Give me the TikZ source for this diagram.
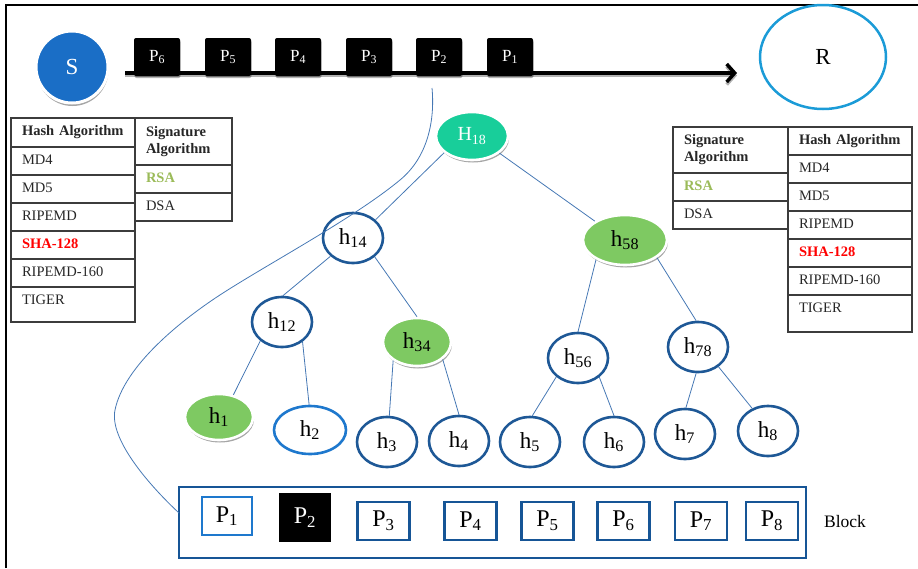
\documentclass[tikz,border=0pt]{standalone}
\usepackage{fontspec}
\setmainfont{Liberation Serif}
\usepackage{xcolor}
\usepackage{tikz}
\usetikzlibrary{shapes.geometric, arrows.meta, positioning, shadows}

\definecolor{srcblue}{RGB}{26,110,198}
\definecolor{rcvcyan}{RGB}{27,155,215}
\definecolor{treeblue}{RGB}{30,88,150}
\definecolor{lightblue}{RGB}{30,120,205}
\definecolor{edgeblue}{RGB}{70,120,180}
\definecolor{rootteal}{RGB}{24,206,154}
\definecolor{leafgreen}{RGB}{126,201,98}
\definecolor{rsagreen}{RGB}{155,187,89}
\definecolor{tabline}{RGB}{60,60,60}
\definecolor{blockblue}{RGB}{22,85,150}

\newcommand{\celltxt}{\fontsize{14.5}{17}\selectfont}
\newcommand{\cellhd}{\fontsize{14.5}{17}\selectfont\bfseries}
\newcommand{\hfont}{\fontsize{23}{25}\selectfont}

\begin{document}
\begin{tikzpicture}[x=1pt,y=-1pt]
\tikzset{
  cellbase/.style={rectangle,draw=tabline,line width=1.3pt,anchor=north west,inner xsep=11pt,inner ysep=0pt,outer sep=0pt,align=left,text=black!85},
  cell/.style={cellbase,minimum height=28pt,text height=10pt,text depth=3pt,font=\celltxt},
  headcell/.style={cellbase,font=\cellhd},
  hashw/.style={minimum width=124pt,text width=102pt},
  sigw/.style={minimum width=97pt,text width=75pt},
  sigwr/.style={minimum width=115pt,text width=93pt},
  plainrow/.style={},
  hot/.style={text=red,font=\cellhd},
  hotg/.style={text=rsagreen,font=\cellhd},
  hnode/.style={ellipse,draw=treeblue,line width=2.6pt,fill=white,inner sep=0pt,minimum width=60pt,minimum height=50pt,font=\hfont},
  hfill/.style={ellipse,draw=white,line width=2.6pt,inner sep=0pt,minimum height=48pt,font=\hfont,
    drop shadow={shadow xshift=1pt,shadow yshift=-2.5pt,opacity=0.35,fill=black}},
  tlink/.style={draw=edgeblue,line width=0.8pt},
  pkt/.style={rectangle,rounded corners=2pt,fill=black,minimum width=46pt,minimum height=38pt,inner sep=0pt,text=white,font=\fontsize{17}{19}\selectfont,
    drop shadow={shadow xshift=0.5pt,shadow yshift=-2pt,opacity=0.3,fill=black}},
  blkp/.style={rectangle,draw=blockblue,line width=2.2pt,minimum width=52pt,minimum height=38pt,inner sep=0pt,font=\fontsize{24}{26}\selectfont},
  flowline/.style={line width=3.5pt,-{Straight Barb[length=8pt,width=18pt]},
    preaction={draw=black!30,line width=3.5pt,transform canvas={yshift=-2.5pt}}},
  curvelink/.style={draw=edgeblue,line width=0.8pt}
}
\useasboundingbox (0,0) rectangle (918,568);
\draw[line width=1.5pt] (6,568) -- (6,5) -- (918,5);

% sender, receiver and the packet stream
\node[circle,fill=srcblue,draw=white,line width=3pt,minimum size=72pt,text=white,font=\fontsize{23}{25}\selectfont,
  drop shadow={shadow xshift=0.5pt,shadow yshift=-3pt,opacity=0.35,fill=black}] (S) at (72,67) {S};
\node[ellipse,draw=rcvcyan,line width=2.5pt,minimum width=126pt,minimum height=104pt,font=\fontsize{23}{25}\selectfont] (R) at (823,57) {R};
\coordinate (flowA) at (125,73);
\coordinate (flowB) at (737,73);
\draw[flowline] (flowA) -- (flowB);
\foreach \n/\x in {6/157,5/228,4/298,3/369,2/439,1/510}
  \node[pkt] (top\n) at (\x,57) {P\textsubscript{\n}};

% left tables
\node[headcell,hashw,minimum height=29pt] (lh0) at (11,118) {Hash Algorithm};
\foreach \t/\s [count=\i, remember=\i as \j (initially 0)] in {MD4/plainrow,MD5/plainrow,RIPEMD/plainrow,SHA-128/hot,RIPEMD-160/plainrow}
  \node[cell,hashw,\s,below=0pt of lh\j] (lh\i) {\t};
\node[cell,hashw,minimum height=35pt,text depth=10pt,below=0pt of lh5] (lh6) {TIGER};
\node[headcell,sigw,minimum height=47pt] (ls0) at (135,118) {Signature\\Algorithm};
\node[cell,sigw,hotg,below=0pt of ls0] (ls1) {RSA};
\node[cell,sigw,below=0pt of ls1] (ls2) {DSA};

% right tables
\node[headcell,sigwr,minimum height=46pt] (rs0) at (673,127) {Signature\\Algorithm};
\node[cell,sigwr,hotg,below=0pt of rs0] (rs1) {RSA};
\node[cell,sigwr,below=0pt of rs1] (rs2) {DSA};
\node[headcell,hashw,minimum height=28pt] (rh0) at (788,127) {Hash Algorithm};
\foreach \t/\s [count=\i, remember=\i as \j (initially 0)] in {MD4/plainrow,MD5/plainrow,RIPEMD/plainrow,SHA-128/hot,RIPEMD-160/plainrow}
  \node[cell,hashw,\s,below=0pt of rh\j] (rh\i) {\t};
\node[cell,hashw,minimum height=37pt,text depth=12pt,below=0pt of rh5] (rh6) {TIGER};

% hash tree
\node[hfill,fill=rootteal,text=white,minimum width=72pt,font=\fontsize{20}{22}\selectfont] (H18) at (472,136) {H\textsubscript{18}};
\node[hnode] (h14) at (353,238) {h\textsubscript{14}};
\node[hfill,fill=leafgreen,minimum width=84pt,minimum height=50pt] (h58) at (625,240) {h\textsubscript{58}};
\node[hnode] (h12) at (282,322) {h\textsubscript{12}};
\node[hfill,fill=leafgreen,minimum width=68pt] (h34) at (417,342) {h\textsubscript{34}};
\node[hnode] (h56) at (578,358) {h\textsubscript{56}};
\node[hnode] (h78) at (698,347) {h\textsubscript{78}};
\node[hfill,fill=leafgreen,minimum width=68pt,minimum height=46pt] (h1) at (219,417) {h\textsubscript{1}};
\node[hnode,draw=lightblue,minimum width=72pt,minimum height=48pt] (h2) at (310,430) {h\textsubscript{2}};
\node[hnode] (h3) at (387,442) {h\textsubscript{3}};
\node[hnode] (h4) at (459,441) {h\textsubscript{4}};
\node[hnode] (h5) at (530,442) {h\textsubscript{5}};
\node[hnode] (h6) at (614,442) {h\textsubscript{6}};
\node[hnode] (h7) at (685,434) {h\textsubscript{7}};
\node[hnode] (h8) at (768,431) {h\textsubscript{8}};
\foreach \a/\b in {H18.211/h14.39,H18.328/h58.148,h14.219/h12.88,h14.319/h34.90,h58.214/h56.90,h58.331/h78.94,
  h12.221/h1.57,h12.316/h2.92,h34.218/h3.85,h34.326/h4.90,h56.221/h5.85,h56.318/h6.90,h78.266/h7.88,h78.316/h8.125}
  \draw[tlink] (\a) -- (\b);

% the block of packets
\node[rectangle,draw=blockblue,line width=2.5pt,minimum width=627pt,minimum height=71pt] (blk) at (492.5,522.5) {};
\node[blkp,draw=lightblue,minimum width=50pt] (b1) at (227,516) {P\textsubscript{1}};
\node[blkp,fill=black,draw=black,text=white,minimum width=50pt,minimum height=47pt] (b2) at (305,517.5) {P\textsubscript{2}};
\foreach \n/\x in {3/383.5,4/470.5,5/547.5,6/623.5,7/701,8/772}
  \node[blkp] (b\n) at (\x,521) {P\textsubscript{\n}};
\node[font=\fontsize{17.5}{19}\selectfont] (blklbl) at (845,522) {Block};

% P2 traced down into the block
\coordinate (ctop) at (432,88);
\coordinate (cend) at (179,513);
\draw[curvelink] (ctop) .. controls (435,120) and (428,157) .. (400,180)
  .. controls (354,218) and (273,261) .. (223,293)
  .. controls (181,320) and (124,366) .. (115,410)
  .. controls (109,439) and (149,485) .. (cend);
\end{tikzpicture}
\end{document}
